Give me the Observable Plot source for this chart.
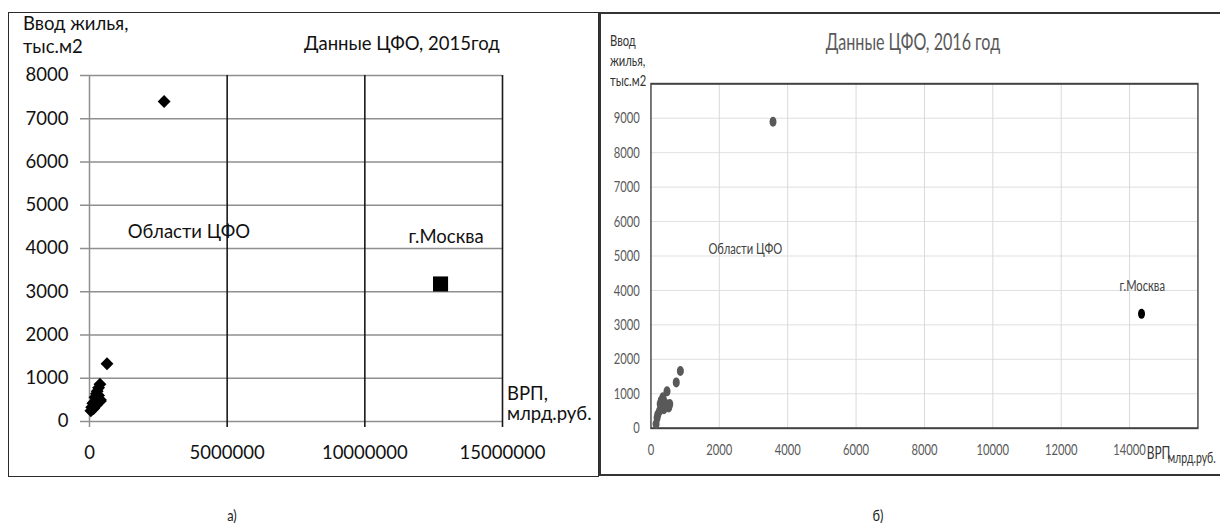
<!DOCTYPE html>
<html><head><meta charset="utf-8">
<script src="https://cdn.jsdelivr.net/npm/d3@7"></script>
<script src="https://cdn.jsdelivr.net/npm/@observablehq/plot@0.6"></script>
<style>
body{margin:0;background:#fff;}
#root{position:relative;width:1220px;height:524px;overflow:hidden;background:#fff;font-family:Lato,sans-serif;}
.abs{position:absolute;white-space:nowrap;line-height:1;}
</style></head><body>
<div id="root">
  <div class="abs" style="left:8px;top:12px;width:591px;height:465px;border:1.5px solid #2b2b2b;box-sizing:border-box"></div>
  <div class="abs" style="left:599px;top:12px;width:700px;height:464px;border:2px solid #333;box-sizing:border-box"></div>
  <div id="left" class="abs" style="left:0;top:0;width:600px;height:480px"></div>
  <div id="right" class="abs" style="left:600px;top:0;width:886px;height:480px;transform:scaleX(0.7);transform-origin:0 0"></div>
  <div class="abs" style="left:232px;top:507px;font-size:16px;color:#222;transform:translateX(-50%) scaleX(0.8)">а)</div>
  <div class="abs" style="left:878px;top:507px;font-size:16px;color:#222;transform:translateX(-50%) scaleX(0.8)">б)</div>
</div>
<script>
// ---- 2015 (left) ----
const oblX2015 = [2710000, 636000, 380000, 330000, 280000, 250000, 400000, 200000, 330000, 390000, 180000, 120000, 250000, 80000, 50000, 150000, 280000];
const oblY2015 = [7400, 1334, 860, 780, 700, 640, 500, 560, 600, 470, 450, 420, 380, 330, 250, 300, 530];
const moskX2015 = [12750000];
const moskY2015 = [3180];
const xTicks2015 = [0, 5000000, 10000000, 15000000];
const yTicks2015 = [0, 1000, 2000, 3000, 4000, 5000, 6000, 7000, 8000];
const noteText2015 = ["Области ЦФО", "г.Москва"];
const noteX2015 = [3610000, 12950000];
const noteY2015 = [4370, 4254];

// ---- 2016 (right) ----
const oblX2016 = [3570, 860, 740, 470, 350, 300, 270, 400, 450, 520, 550, 300, 250, 200, 180, 150, 380];
const oblY2016 = [8900, 1660, 1330, 1070, 900, 800, 700, 750, 650, 600, 700, 600, 500, 400, 300, 120, 550];
const moskX2016 = [14350];
const moskY2016 = [3320];
const xTicks2016 = [0, 2000, 4000, 6000, 8000, 10000, 12000, 14000];
const yTicks2016 = [0, 1000, 2000, 3000, 4000, 5000, 6000, 7000, 8000, 9000];
const noteText2016 = ["Области ЦФО", "г.Москва"];
const noteX2016 = [2760, 14370];
const noteY2016 = [5210, 4140];

const zip = (xs, ys) => xs.map((x, i) => ({x, y: ys[i]}));
const notes = (t, xs, ys) => t.map((s, i) => ({text: s, x: xs[i], y: ys[i]}));
const fmt = d3.format("d");

const left = Plot.plot({
  width: 600, height: 480,
  marginLeft: 89, marginRight: 98, marginTop: 75, marginBottom: 59,
  x: {domain: [0, 15000000]},
  y: {domain: [0, 8000]},
  style: {fontFamily: "Lato, sans-serif", fontSize: "18.5px", color: "#111", background: "transparent", overflow: "visible"},
  marks: [
    Plot.gridY({ticks: yTicks2015, stroke: "#8f8f8f", strokeOpacity: 1, strokeWidth: 1.5}),
    Plot.axisY({ticks: yTicks2015, tickSize: 9, tickPadding: 12, tickFormat: fmt, stroke: "#8f8f8f", strokeWidth: 1.5, fill: "#111", fontSize: 18.5, label: null}),
    Plot.ruleX([0], {stroke: "#8f8f8f", strokeWidth: 1.5, insetBottom: -6}),
    Plot.ruleX(xTicks2015.slice(1), {stroke: "#1a1a1a", strokeWidth: 1.6, insetBottom: -6}),
    Plot.axisX({ticks: xTicks2015, tickSize: 0, tickPadding: 24, tickFormat: fmt, fill: "#111", fontSize: 18.5, label: null}),
    Plot.text(notes(noteText2015, noteX2015, noteY2015), {x: "x", y: "y", text: "text", fill: "#111", fontSize: 18.5}),
    Plot.dot(zip(oblX2015, oblY2015), {x: "x", y: "y", symbol: "diamond2", r: 5.8, fill: "#000"}),
    Plot.dot(zip(moskX2015, moskY2015), {x: "x", y: "y", symbol: "square", r: 8.5, fill: "#000"})
  ]
});
const L = document.getElementById("left");
L.appendChild(left);
left.style.position = "absolute"; left.style.left = "0"; left.style.top = "0";
const addText = (parent, txt, css) => {
  const d = document.createElement("div");
  d.className = "abs"; d.textContent = txt; d.style.cssText += css;
  parent.appendChild(d);
};
addText(L, "Ввод жилья,", "left:23px;top:13.6px;font-size:18.5px;color:#111");
addText(L, "тыс.м2", "left:23px;top:36.6px;font-size:18.5px;color:#111");
addText(L, "Данные ЦФО, 2015год", "left:304px;top:33.6px;font-size:18.5px;color:#111");
addText(L, "ВРП,", "left:507px;top:383.6px;font-size:18.5px;color:#111");
addText(L, "млрд.руб.", "left:507px;top:403.6px;font-size:18.5px;color:#111");

const right = Plot.plot({
  width: 886, height: 480,
  marginLeft: 72.3, marginRight: 32.3, marginTop: 83.3, marginBottom: 52.3,
  x: {domain: [0, 16000]},
  y: {domain: [0, 10000]},
  style: {fontFamily: "Lato, sans-serif", fontSize: "16px", color: "#595959", background: "transparent", overflow: "visible"},
  marks: [
    Plot.gridX({ticks: xTicks2016.slice(1), stroke: "#d9d9d9", strokeOpacity: 1, strokeWidth: 1.4}),
    Plot.gridY({ticks: yTicks2016.slice(1), stroke: "#d9d9d9", strokeOpacity: 1, strokeWidth: 1}),
    Plot.frame({stroke: "#404040", strokeWidth: 2}),
    Plot.axisY({ticks: yTicks2016, tickSize: 0, tickPadding: 16, tickFormat: fmt, fill: "#595959", fontSize: 16, label: null}),
    Plot.axisX({ticks: xTicks2016, tickSize: 0, tickPadding: 15, tickFormat: fmt, fill: "#595959", fontSize: 16, label: null}),
    Plot.text(notes(noteText2016, noteX2016, noteY2016), {x: "x", y: "y", text: "text", fill: "#404040", fontSize: 16}),
    Plot.dot(zip(oblX2016, oblY2016), {x: "x", y: "y", r: 5, fill: "#595959"}),
    Plot.dot(zip(moskX2016, moskY2016), {x: "x", y: "y", r: 5, fill: "#000"})
  ]
});
const R = document.getElementById("right");
R.appendChild(right);
right.style.position = "absolute"; right.style.left = "0"; right.style.top = "0";
addText(R, "Ввод", "left:14.3px;top:31.8px;font-size:16px;color:#333");
addText(R, "жилья,", "left:14.3px;top:51.8px;font-size:16px;color:#333");
addText(R, "тыс.м2", "left:14.3px;top:71.8px;font-size:16px;color:#333");
addText(R, "Данные ЦФО, 2016 год", "left:447px;top:29.6px;font-size:23px;color:#595959;transform:translateX(-50%)");
addText(R, "ВРП", "left:781px;top:443.8px;font-size:17px;color:#333");
addText(R, "млрд.руб.", "left:811px;top:450px;font-size:15px;color:#333");
</script>
</body></html>
